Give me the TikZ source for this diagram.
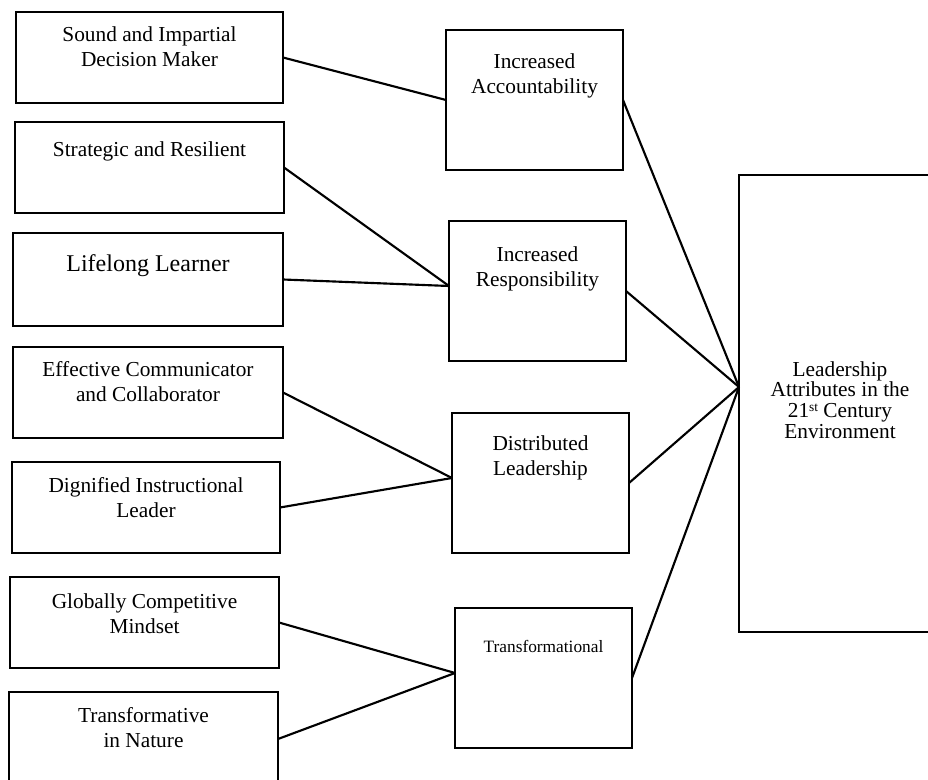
\documentclass[tikz,border=0pt]{standalone}
\usepackage{fontspec}
\setmainfont{Liberation Serif}
\usetikzlibrary{fit}
\begin{document}
\begin{tikzpicture}[x=0.75pt,y=-0.75pt,
  box/.style={draw, line width=1.9pt, inner sep=0pt, outer sep=0pt},
  conn/.style={line width=1.6pt},
  lbl/.style={font=\fontsize{16}{18.75}\selectfont, align=center, inner sep=0pt, anchor=base}]
\useasboundingbox (0,0) rectangle (928,780);
% left boxes
\node[box, fit={(16,12) (283,103)}] (b1) {};
\node[box, fit={(15,122) (284,213)}] (b2) {};
\node[box, fit={(13,233) (283,326)}] (b3) {};
\node[box, fit={(13,347) (283,438)}] (b4) {};
\node[box, fit={(12,462) (280,553)}] (b5) {};
\node[box, fit={(10,577) (279,668)}] (b6) {};
\node[box, fit={(9,692) (278,786)}] (b7) {};
% middle boxes
\node[box, fit={(446,30) (623,170)}] (mA) {};
\node[box, fit={(449,221) (626,361)}] (mB) {};
\node[box, fit={(452,413) (629,553)}] (mC) {};
\node[box, fit={(455,608) (632,748)}] (mD) {};
% right box
\node[box, fit={(739,175) (942,632)}] (R) {};
\coordinate (J) at (739,387);
% texts (base = baseline of last line)
\node[lbl] (t1) at (149.5,67) {Sound and Impartial\\Decision Maker};
\node[lbl] (t2) at (149.5,157) {Strategic and Resilient};
\node[lbl, font=\fontsize{18}{21}\selectfont] (t3) at (148,272) {Lifelong Learner};
\node[lbl] (t4) at (148,402) {Effective Communicator\\and Collaborator};
\node[lbl] (t5) at (146,517) {Dignified Instructional\\Leader};
\node[lbl] (t6) at (144.5,633) {Globally Competitive\\Mindset};
\node[lbl] (t7) at (143.5,747) {Transformative\\in Nature};
\node[lbl] (tA) at (534.5,94) {Increased\\Accountability};
\node[lbl] (tB) at (537.5,287) {Increased\\Responsibility};
\node[lbl] (tC) at (540.5,475) {Distributed\\Leadership};
\node[lbl, font=\fontsize{13}{15}\selectfont] (tD) at (543.5,652) {Transformational};
\node[lbl, font=\fontsize{16}{15.5}\selectfont] (tR) at (840,438) {Leadership\\Attributes in the\\21{\fontsize{10}{10}\selectfont\raisebox{0.45em}{st}} Century\\Environment};
% connectors
\draw[conn] (b1.east) -- (mA.west);
\draw[conn] (b2.east) -- ([yshift=3.75pt]mB.west);
\draw[conn] (b3.east) -- ([yshift=3.75pt]mB.west);
\draw[conn] (b4.east) -- ([yshift=3.75pt]mC.west);
\draw[conn] (b5.east) -- ([yshift=3.75pt]mC.west);
\draw[conn] (b6.east) -- ([yshift=3.75pt]mD.west);
\draw[conn] (b7.east) -- ([yshift=3.75pt]mD.west);
\draw[conn] (mA.east) -- (J);
\draw[conn] (mB.east) -- (J);
\draw[conn] (mC.east) -- (J);
\draw[conn] (mD.east) -- (J);
\end{tikzpicture}
\end{document}
